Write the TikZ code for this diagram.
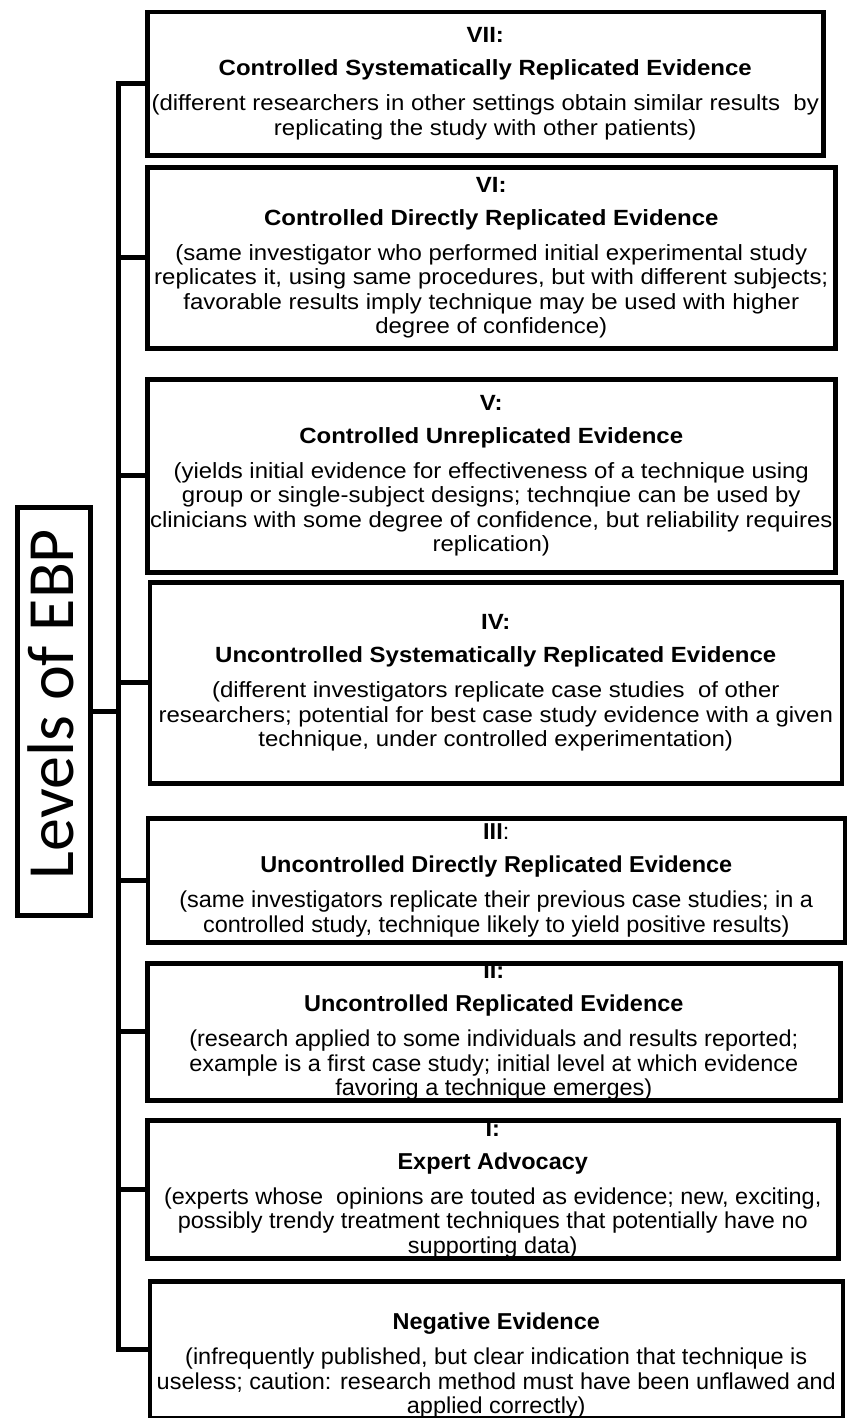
\documentclass[tikz,border=0pt]{standalone}
\usepackage{fontspec}
\setmainfont{Liberation Sans}
\newfontfamily\widefont[FakeStretch=1.09]{Liberation Sans}
\newfontfamily\lowfont[FakeStretch=1.02]{Liberation Sans}
\newfontfamily\ebpfont{Carlito}
\usetikzlibrary{positioning}

\tikzset{
	lvlbox/.style={draw, rectangle, line width=4.5pt, inner sep=0pt, anchor=north west},
	lvltext/.style={align=center, inner sep=0pt, font=\widefont\fontsize{22}{24.5}\selectfont},
	lowtext/.style={lvltext, font=\lowfont\fontsize{23}{24.5}\selectfont},
	link/.style={line width=5pt, line join=miter},
}

\begin{document}
\begin{tikzpicture}[x={(1pt,0)}, y={(0,-1pt)}]
			%%%%% START %%%%%
			\useasboundingbox (0,0) rectangle (846,1418);
			
			\node[lvlbox, minimum width=676pt, minimum height=143pt] (b7) at (145,10) {};
			\node[lvlbox, minimum width=688pt, minimum height=181pt] (b6) at (145,165) {};
			\node[lvlbox, minimum width=688pt, minimum height=193pt] (b5) at (145,377) {};
			\node[lvlbox, minimum width=692pt, minimum height=201pt] (b4) at (147.5,580) {};
			\node[lvlbox, minimum width=697pt, minimum height=124pt] (b3) at (145.5,816) {};
			\node[lvlbox, minimum width=693pt, minimum height=137pt] (b2) at (145,961) {};
			\node[lvlbox, minimum width=691pt, minimum height=138pt] (b1) at (145,1118) {};
			\node[lvlbox, minimum width=693pt, minimum height=137pt] (b0) at (147.5,1279) {};
			
			\node[lvltext] (t7) at (b7.center) {\textbf{VII:}\\[8.5pt]\textbf{Controlled Systematically Replicated Evidence}\\[10.5pt]
				(different researchers in other settings obtain similar results\ \ by\\replicating the study with other patients)};
			\node[lvltext] (t6) at (b6.center) {\textbf{VI:}\\[8.5pt]\textbf{Controlled Directly Replicated Evidence}\\[10.5pt]
				(same investigator who performed initial experimental study\\replicates it, using same procedures, but with different subjects;\\
				favorable results imply technique may be used with higher\\degree of confidence)};
			\node[lvltext] (t5) at (b5.center) {\textbf{V:}\\[8.5pt]\textbf{Controlled Unreplicated Evidence}\\[10.5pt]
				(yields initial evidence for effectiveness of a technique using\\group or single-subject designs; technqiue can be used by\\
				clinicians with some degree of confidence, but reliability requires\\replication)};
			\node[lvltext] (t4) at (b4.center) {\textbf{IV:}\\[8.5pt]\textbf{Uncontrolled Systematically Replicated Evidence}\\[10.5pt]
				(different investigators replicate case studies\ \ of other\\researchers; potential for best case study evidence with a given\\
				technique, under controlled experimentation)};
			\node[lowtext] (t3) at (b3.center) {\textbf{III}:\\[8.5pt]\textbf{Uncontrolled Directly Replicated Evidence}\\[10.5pt]
				(same investigators replicate their previous case studies; in a\\controlled study, technique likely to yield positive results)};
			\node[lowtext] (t2) at (b2.center) {\textbf{II:}\\[8.5pt]\textbf{Uncontrolled Replicated Evidence}\\[10.5pt]
				(research applied to some individuals and results reported;\\example is a first case study; initial level at which evidence\\
				favoring a technique emerges)};
			\node[lowtext] (t1) at (b1.center) {\textbf{I:}\\[8.5pt]\textbf{Expert Advocacy}\\[10.5pt]
				(experts whose\ \ opinions are touted as evidence; new, exciting,\\possibly trendy treatment techniques that potentially have no\\
				supporting data)};
			\node[lowtext] (t0) at (b0.center) {\vphantom{\textbf{I:}}\\[8.5pt]\textbf{Negative Evidence}\\[10.5pt]
				(infrequently published, but clear indication that technique is\\useless; caution: research method must have been unflawed and\\
				applied correctly)};
			
			% label box on the left
			\node[draw, line width=5pt, minimum width=408pt, minimum height=73pt, rotate=90] (ebp) at (53.5,711) {};
			\node[inner sep=0pt, font=\ebpfont\fontsize{66}{66}\selectfont, rotate=90] (ebptext) at ([shift={(-3,-7)}]ebp.center) {Levels of EBP};
			
			% spine and branches
			\coordinate (spine) at (118,0);
			\draw[link] (b7.west) -- (b7.west -| spine) -- (b0.west -| spine) -- (b0.west);
			\draw[link] (b6.west) -- (b6.west -| spine);
			\draw[link] (b5.west) -- (b5.west -| spine);
			\draw[link] (b4.west) -- (b4.west -| spine);
			\draw[link] (b3.west) -- (b3.west -| spine);
			\draw[link] (b2.west) -- (b2.west -| spine);
			\draw[link] (b1.west) -- (b1.west -| spine);
			\draw[link] (ebp.south) -- (ebp.south -| spine);
			%%%%% END %%%%%
\end{tikzpicture}
\end{document}
